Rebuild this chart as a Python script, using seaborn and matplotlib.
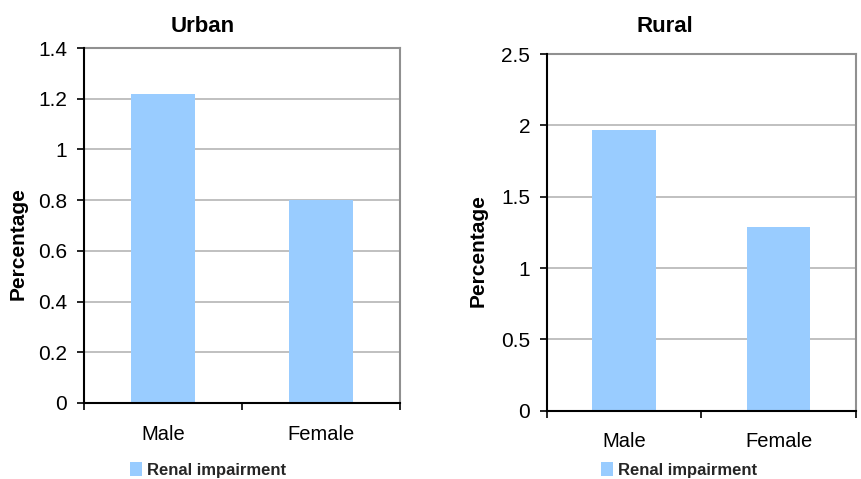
import matplotlib
matplotlib.use("Agg")
import matplotlib.pyplot as plt
from matplotlib.patches import Patch
import seaborn as sns
import pandas as pd

categories = ["Male", "Female"]
urban_values = [1.22, 0.80]
rural_values = [1.97, 1.29]
urban_ticks = [0, 0.2, 0.4, 0.6, 0.8, 1.0, 1.2, 1.4]
urban_tick_labels = ["0", "0.2", "0.4", "0.6", "0.8", "1", "1.2", "1.4"]
rural_ticks = [0, 0.5, 1.0, 1.5, 2.0, 2.5]
rural_tick_labels = ["0", "0.5", "1", "1.5", "2", "2.5"]
series_name = "Renal impairment"
titles = ["Urban", "Rural"]

sns.set_theme(style="white")
plt.rcParams["font.family"] = ["Liberation Sans", "DejaVu Sans"]

BAR = "#99CCFF"
fig = plt.figure(figsize=(8.61, 4.79), dpi=100)

specs = [
    dict(rect=[84/861, 1-403/479, 316/861, 355/479], vals=urban_values, ticks=urban_ticks,
         labels=urban_tick_labels, ymax=1.4, title=titles[0], tx=203/861, lx=-0.177,
         legx=127/861),
    dict(rect=[546.7/861, 1-410.7/479, 309.3/861, 356.7/479], vals=rural_values, ticks=rural_ticks,
         labels=rural_tick_labels, ymax=2.5, title=titles[1], tx=665/861, lx=-0.19,
         legx=598/861),
]

for s in specs:
    ax = fig.add_axes(s["rect"])
    df = pd.DataFrame({"Category": categories, "Value": s["vals"]})
    sns.barplot(data=df, x="Category", y="Value", color=BAR, saturation=1,
                width=0.41, ax=ax, zorder=3, linewidth=0, edgecolor="none")
    ax.set_xlim(-0.5, 1.5)
    ax.set_ylim(0, s["ymax"])
    ax.set_yticks(s["ticks"])
    ax.set_yticklabels(s["labels"], fontsize=15, color="black")
    ax.yaxis.grid(True, color="#C0C0C0", linewidth=1.4, zorder=0)
    ax.set_axisbelow(True)
    ax.set_xticks([0, 1])
    ax.set_xticklabels(categories, fontsize=14.5, color="black")
    ax.set_xticks([-0.5, 0.5, 1.5], minor=True)
    ax.tick_params(axis="x", which="major", length=0, pad=15.5)
    ax.tick_params(axis="x", which="minor", length=5, width=1.2, color="black", direction="out", bottom=True)
    ax.tick_params(axis="y", which="major", length=5, width=1.2, color="black", direction="out", left=True, pad=7)
    ax.set_xlabel("")
    ax.set_ylabel("Percentage", fontsize=15, fontweight="bold", color="black")
    ax.yaxis.set_label_coords(s["lx"], 0.45)
    for side in ["left", "bottom"]:
        ax.spines[side].set_color("black")
        ax.spines[side].set_linewidth(1.5)
        ax.spines[side].set_zorder(5)
    for side in ["top", "right"]:
        ax.spines[side].set_color("#909090")
        ax.spines[side].set_linewidth(1.5)
    fig.text(s["tx"], 1-27/479, s["title"], ha="center", va="center",
             fontsize=16, fontweight="bold", color="black")
    fig.legend(handles=[Patch(facecolor=BAR, edgecolor="none", label=series_name)],
               loc="center left", bbox_to_anchor=(s["legx"] - 0.006, 1-470/479),
               frameon=False, handlelength=0.7, handleheight=0.9, handletextpad=0.3,
               borderpad=0, prop=dict(size=12, weight="bold"))

fig.savefig("out.png", dpi=100)
